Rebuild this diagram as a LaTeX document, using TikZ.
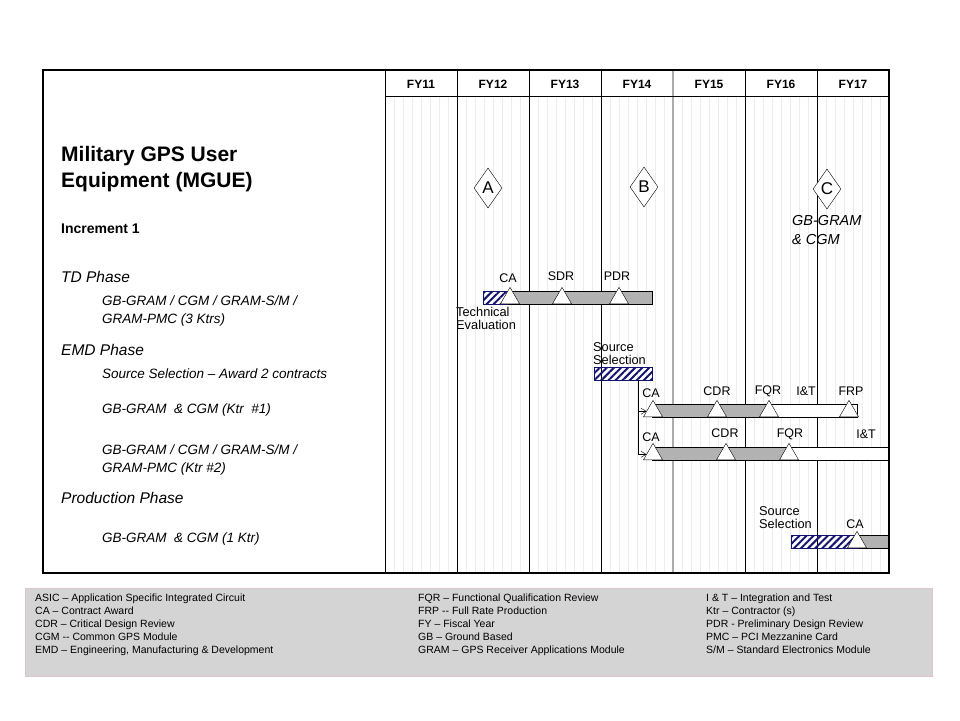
\documentclass[tikz,border=0pt]{standalone}
\usepackage{fontspec}
\setmainfont{Liberation Sans}
\usepackage{xcolor}
\usetikzlibrary{arrows.meta, positioning, shapes.geometric, patterns.meta}

\definecolor{barfill}{RGB}{178,178,178}
\definecolor{legendfill}{RGB}{212,212,212}
\definecolor{legendedge}{RGB}{222,196,206}
\definecolor{hatchblue}{RGB}{20,20,110}

\begin{document}
\begin{tikzpicture}[x=1pt, y=-1pt,
    yearlbl/.style={font={\fontsize{12}{14}\selectfont\bfseries}},
    title/.style={anchor=west, align=left, inner sep=0, font={\fontsize{21}{26}\selectfont\bfseries}},
    incr/.style={anchor=west, inner sep=0, font={\fontsize{14}{16}\selectfont\bfseries}},
    phase/.style={anchor=west, inner sep=0, font={\fontsize{15.5}{18}\selectfont\itshape}},
    item/.style={anchor=west, align=left, inner sep=0, font={\fontsize{13.5}{18}\selectfont\itshape}},
    mslbl/.style={inner sep=0, font={\fontsize{12.5}{13}\selectfont}},
    note/.style={anchor=west, align=left, inner sep=0, font={\fontsize{12.8}{13}\selectfont}},
    legend/.style={anchor=north west, align=left, inner sep=0, font={\fontsize{10.5}{12.8}\selectfont}},
    mstone/.style={diamond, draw, fill=white, minimum width=28, minimum height=40, inner sep=0, font={\fontsize{17}{17}\selectfont}},
    tri/.style={regular polygon, regular polygon sides=3, draw, fill=white, minimum size=22, inner sep=0, anchor=south},
    hatch/.style={draw=hatchblue, pattern={Lines[angle=45, distance=5pt, line width=2pt]}, pattern color=hatchblue, minimum height=13, inner sep=0},
    bar/.style={draw, fill=barfill},
    arrow/.style={-{Straight Barb[length=5pt, width=6pt]}, thin},
  ]
  \useasboundingbox (0,0) rectangle (960,720);

  % grid of the time line
  \foreach \k in {1,...,55}
    \draw[gray!15] (385+9*\k,96) -- (385+9*\k,573);
  \foreach \k in {1,2,3,5,6}
    \draw (385+72*\k,70) -- (385+72*\k,573);
  \draw[gray!65, line width=1.2pt] (673,70) -- (673,573);
  \draw (385,96) -- (889,96);
  \draw (385,70) -- (385,573);
  \foreach \y [count=\i from 0] in {11,...,17}
    \node[yearlbl] (fy\y) at (385+72*\i+36,84) {FY\y};

  % left column
  \node[title] (mgue) at (61,169) {Military GPS User\\Equipment (MGUE)};
  \node[incr] (incr1) at (61,229) {Increment 1};
  \node[phase] (tdPhase) at (61,277) {TD Phase};
  \node[item] (tdItem) at (102,311) {GB-GRAM / CGM / GRAM-S/M /\\GRAM-PMC (3 Ktrs)};
  \node[phase] (emdPhase) at (61,350) {EMD Phase};
  \node[item] (emdSS) at (102,374) {Source Selection -- Award 2 contracts};
  \node[item] (emdK1) at (102,410) {GB-GRAM~ \& CGM (Ktr~ \#1)};
  \node[item] (emdK2) at (102,460) {GB-GRAM / CGM / GRAM-S/M /\\GRAM-PMC (Ktr \#2)};
  \node[phase] (prodPhase) at (61,498) {Production Phase};
  \node[item] (prodK) at (102,539) {GB-GRAM~ \& CGM (1 Ktr)};

  % milestones
  \node[mstone] (msA) at (488,188) {A};
  \node[mstone] (msB) at (644,187) {B};
  \node[mstone] (msC) at (827,189) {C};
  \node[item, font={\fontsize{14.5}{19}\selectfont\itshape}] (msCnote) at (792,230.5) {GB-GRAM\\\& CGM};

  % TD phase
  \node[hatch, minimum width=25] (teHatch) at (495.5,297.5) {};
  \draw[bar] (508,291) rectangle (652,304);
  \node[tri] (tdCA) at (510,304) {};
  \node[tri] (tdSDR) at (562,304) {};
  \node[tri] (tdPDR) at (619,304) {};
  \node[mslbl] (lTdCA) at (508,278) {CA};
  \node[mslbl] (lTdSDR) at (561,276) {SDR};
  \node[mslbl] (lTdPDR) at (617,276) {PDR};
  \node[note] (techEval) at (456,318.5) {Technical\\Evaluation};

  % EMD phase
  \node[note] (ssEmdLbl) at (593,353.5) {Source\\Selection};
  \node[hatch, minimum width=58] (ssEmd) at (623,373.5) {};
  \draw[fill=white] (652,404) rectangle (857,417);
  \draw[bar] (652,404) rectangle (770,417);
  \node[tri] (k1CA) at (653,417) {};
  \node[tri] (k1CDR) at (717,417) {};
  \node[tri] (k1FQR) at (769,417) {};
  \node[tri] (k1FRP) at (849,417) {};
  \node[mslbl] (lK1CA) at (651,393) {CA};
  \node[mslbl] (lK1CDR) at (717,391) {CDR};
  \node[mslbl] (lK1FQR) at (768,391) {FQR};
  \node[mslbl] (lK1IT) at (806,391) {I\&T};
  \node[mslbl] (lK1FRP) at (851,391) {FRP};

  \draw[fill=white] (652,447) rectangle (889,460);
  \draw[bar] (652,447) rectangle (790,460);
  \node[tri] (k2CA) at (653,460) {};
  \node[tri] (k2CDR) at (726,460) {};
  \node[tri] (k2FQR) at (789,460) {};
  \node[mslbl] (lK2CA) at (651,437) {CA};
  \node[mslbl] (lK2CDR) at (725,433) {CDR};
  \node[mslbl] (lK2FQR) at (790,434) {FQR};
  \node[mslbl] (lK2IT) at (866,434) {I\&T};

  \coordinate (ssDrop) at ([xshift=-14]ssEmd.south east);
  \draw[arrow] (ssDrop) |- (k1CA.west);
  \draw[arrow] (ssDrop) |- (k2CA.west);

  % production phase
  \node[note] (ssProdLbl) at (759,517.5) {Source\\Selection};
  \draw[bar] (858,535) rectangle (889,548);
  \node[hatch, minimum width=67] (ssProd) at (824.5,541.5) {};
  \node[tri] (prCA) at (857,548) {};
  \node[mslbl] (lPrCA) at (855,524) {CA};

  % frame
  \draw[line width=2pt] (43,70) rectangle (889,573);

  % legend
  \draw[draw=legendedge, fill=legendfill] (25,588) rectangle (932,676);
  \node[legend] (legA) at (35,594) {ASIC -- Application Specific Integrated Circuit\\CA -- Contract Award\\CDR -- Critical Design Review\\CGM -{}- Common GPS Module\\EMD -- Engineering, Manufacturing \& Development};
  \node[legend] (legB) at (418,594) {FQR -- Functional Qualification Review\\FRP -{}- Full Rate Production\\FY -- Fiscal Year\\GB -- Ground Based\\GRAM -- GPS Receiver Applications Module};
  \node[legend] (legC) at (706,594) {I \& T -- Integration and Test\\Ktr -- Contractor (s)\\PDR - Preliminary Design Review\\PMC -- PCI Mezzanine Card\\S/M -- Standard Electronics Module};
\end{tikzpicture}
\end{document}
